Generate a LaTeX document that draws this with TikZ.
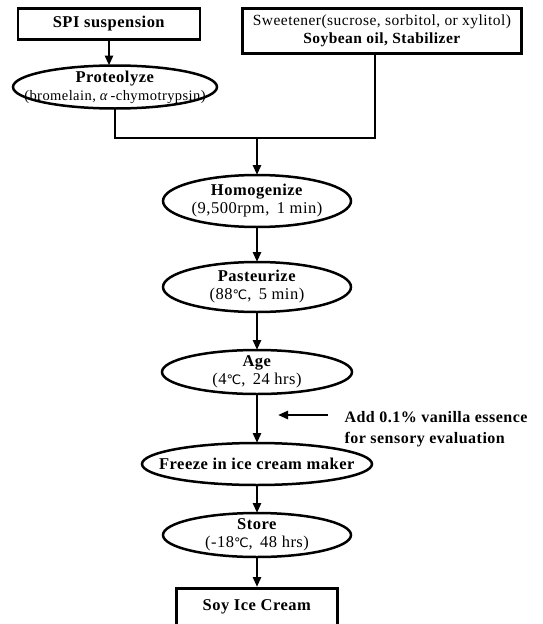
\documentclass[tikz,border=0pt]{standalone}
\usepackage{fontspec}
\setmainfont{Liberation Serif}[LetterSpace=3]
\newfontfamily\symfont{DejaVu Sans}
\usepackage{tikz}
\usetikzlibrary{positioning}
\usetikzlibrary{arrows.meta}

\newcommand{\degC}{{\symfont\fontsize{13}{13}\selectfont ℃}}

\begin{document}
\begin{tikzpicture}[x=1pt,y=-1pt,line width=2.5pt,
    font=\fontsize{16.5}{18}\selectfont,
    box/.style={draw,rectangle,inner sep=0pt,align=center},
    proc/.style={inner sep=0pt,outer sep=0pt,align=center,minimum height=#1},
    flow/.style={-{Triangle[length=10pt,width=8pt]}}]
\useasboundingbox (0,0) rectangle (543,624);
% inputs
  \node (spi) [box,minimum width=182pt,minimum height=31pt] at (109,24) {\textbf{SPI suspension}};
  \node (sweet) [box,minimum width=279pt,minimum height=45pt,font=\fontsize{15.5}{18}\selectfont] at (382,31)
    {Sweetener(sucrose, sorbitol, or xylitol)\\\textbf{Soybean oil, Stabilizer}};
  \node (prot) [proc=43pt] at (115,87)
    {\textbf{Proteolyze}\\{\fontsize{14.5}{16}\selectfont(bromelain, \textit{α}\,-chymotrypsin)}};
% main line
  \coordinate (join) at (257,138);
  \node (homog) [proc=52pt,below=37pt of join] {\textbf{Homogenize}\\(9,500rpm,\, 1 min)};
  \node (past) [proc=50pt,below=35pt of homog] {\textbf{Pasteurize}\\(88\degC,\, 5 min)};
  \node (age) [proc=44pt,below=38pt of past] {\textbf{Age}\\(4\degC,\, 24 hrs)};
  \node (freeze) [proc=42pt,below=49pt of age] {\textbf{Freeze in ice cream maker}};
  \node (store) [proc=44pt,below=28pt of freeze] {\textbf{Store}\\(-18\degC,\, 48 hrs)};
  \node (soy) [box,minimum width=161pt,minimum height=38pt,below=30pt of store] {\textbf{Soy Ice Cream}};
% side note
  \node (add) [anchor=west,align=left,font=\fontsize{16}{21}\selectfont\bfseries] at (340,429)
    {Add 0.1\% vanilla essence\\for sensory evaluation};
  \coordinate (addtail) at (328,415);
  \coordinate (addtip) at (278,415);
% outlines
\foreach \n/\rx/\ry in {prot/102/21.5,homog/94/26,past/94/25,age/95/22,freeze/115/21,store/94/22}
  \draw (\n.center) ellipse [x radius=\rx pt,y radius=\ry pt];
% arrows
\draw [flow] (spi.south) -- (spi.south |- prot.north);
\draw (prot.south) |- (join) -| ([xshift=-7pt]sweet.south);
\draw [flow] (join) -- (homog);
\draw [flow] (homog) -- (past);
\draw [flow] (past) -- (age);
\draw [flow] (age) -- (freeze);
\draw [flow] (freeze) -- (store);
\draw [flow] (store) -- (soy);
\draw [flow] (addtail) -- (addtip);
\end{tikzpicture}
\end{document}
